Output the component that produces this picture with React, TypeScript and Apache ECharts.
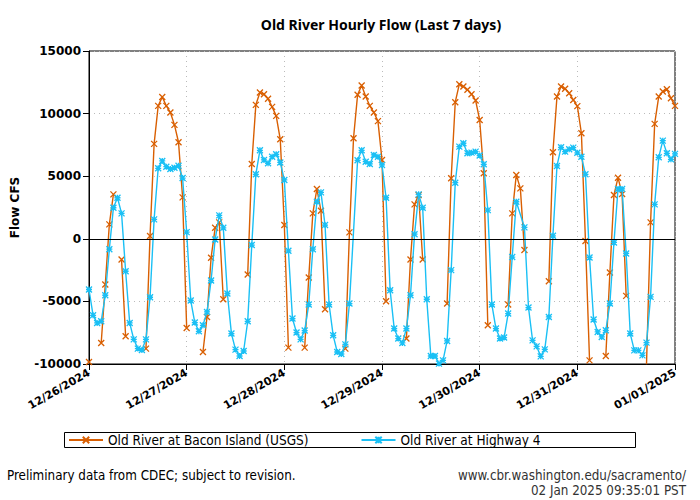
import React, { useEffect, useRef } from "react";
import * as echarts from "echarts";

const dayLabels = ["12/26/2024", "12/27/2024", "12/28/2024", "12/29/2024", "12/30/2024", "12/31/2024", "01/01/2025"];

// Old River at Highway 4 — hourly values, hour index = position (null = missing)
const hwy4Flow: (number | null)[] = [
  -4050, -6110, -6720, -6590, -4510, -830, 2480, 3280, 2030, -2590, -6720, -8030,
  -8770, -8880, -8030, -4670, 1550, 5630, 6220, 5760, 5580, 5680, 5840, 4850,
  530, -4930, -6690, -7390, -6910, -5840, -3330, -50, 1870, 880, -4370, -7570,
  -8850, -9360, -8960, -6590, -500, 5150, 7070, 6300, 6030, 6560, 6750, 6100,
  4700, -960, -6370, -7490, -8030, -7330, -5250, -830, 2960, 3710, 1100, -5250,
  -7710, -9040, -9200, -8430, -5170, null, 6270, 7070, 6160, 5980, 6700, 6560,
  5900, 3280, -4110, -7170, -7970, -8320, -7170, -4510, 370, 3550, 2480, -4830,
  -9360, -9360, -9970, -9710, -8160, -2500, 4480, 7360, 7630, 6830, 6880, 6960,
  6650, 5950, 2290, -5250, -7170, -7970, -7890, -5970, -1460, 2960, null, 910,
  -5490, -8110, -8590, -9390, -8830, -6240, 240, 5820, 7310, 6960, 7150, 7280,
  6870, 6560, 5150, -1490, -6450, -7440, -7840, -7310, -5170, -290, 3980, 3980,
  -1170, -7570, -8910, -8910, -9310, -8290, -4640, 2750, 6510, 7840, 6830, 6350,
  6780,
];

// Old River at Bacon Island (USGS) — hours since 12/26/2024 00:00 and values (other hours missing)
const baconHours = [
  0, 3, 4, 5, 6, 8, 9, 14, 15, 16, 17, 18, 19, 20, 21, 22, 23, 24,
  28, 29, 30, 31, 32, 33, 39, 40, 41, 42, 43, 44, 45, 46, 47, 48,
  49, 53, 54, 55, 56, 57, 58, 63, 64, 65, 66, 67, 68, 69, 70, 71, 72,
  73, 78, 79, 80, 81, 82, 88, 89, 90, 91, 92, 93, 94, 95, 96,
  97, 98, 103, 104, 105, 106, 107, 113, 114, 115, 116, 117, 118, 119, 120,
  121, 122, 123, 127, 128, 129, 130, 131, 132, 137, 138, 139, 140, 141, 142, 143, 144,
];
const baconFlow = [
  -9840, -8320, -3650, 1150, 3550, -1650, -7790, -8770, 220, 7580, 10620, 11320, 10620, 10090, 9100, 7710, 3310, -7120,
  -9040, -6240, -1520, 880, 1310, -4830, -2850, 5980, 10700, 11680, 11550, 11180, 10540, 9820, 7950, 1100,
  -8690, -8690, -3090, 2030, 3980, 2240, -5630, -8770, 510, 8030, 11500, 12250, 11370, 10620, 10090, 9400, 6300,
  -4990, -7970, -1650, 2750, 3500, -1650, -5170, 4830, 10910, 12350, 12170, 11900, 11550, 11050, 9490,
  5230, -6910, -5250, 2030, 5100, 4030, -900, -3390, 6910, 11360, 12170, 11980, 11630, 11090, 10600,
  8430, -180, -9710, -9360, -2690, 3500, 4880, 3580, -4560, -10020, 1310, 9180, 11360, 11760, 11950, 11230, 10620,
];

const seriesNames = ["Old River at Bacon Island (USGS)", "Old River at Highway 4"];
const titleText = "Old River Hourly Flow (Last 7 days)";
const yAxisName = "Flow CFS";
const footLeft = "Preliminary data from CDEC; subject to revision.";
const footRight1 = "www.cbr.washington.edu/sacramento/";
const footRight2 = "02 Jan 2025 09:35:01 PST";

const ORANGE = "#D95F02";
const BLUE = "#1AC0F5";
const CROSS = "path://M0,0L8,8M8,0L0,8";
const STAR = "path://M0,0L8,8M8,0L0,8M4,0L4,8M0,4L8,4";
const SANS = "DejaVu Sans";
const COND = "'DejaVu Sans Condensed', 'DejaVu Sans'";

export default function App() {
  const ref = useRef<HTMLDivElement>(null);
  useEffect(() => {
    if (!ref.current) return;
    const chart = echarts.init(ref.current, undefined, { renderer: "svg" });
    const baconByHour = new Map<number, number>();
    baconHours.forEach((h, i) => baconByHour.set(h, baconFlow[i]));
    const baconData = hwy4Flow.map((_, h) => [h, baconByHour.has(h) ? baconByHour.get(h) : null]);
    const hwyData = hwy4Flow.map((v, i) => [i, v]);
    chart.setOption({
      animation: false,
      backgroundColor: "#fff",
      grid: { left: 89, right: 25, top: 51, bottom: 136, show: true, borderColor: "#000", borderWidth: 1, backgroundColor: "transparent" },
      legend: {
        left: 68,
        top: 433,
        itemWidth: 34,
        itemHeight: 8,
        itemGap: 52,
        padding: 0,
        data: seriesNames,
        textStyle: { fontFamily: COND, fontSize: 13.5, color: "#000" },
      },
      xAxis: {
        type: "value",
        min: 0,
        max: 144,
        interval: 24,
        position: "bottom",
        axisLine: { onZero: false, lineStyle: { color: "#000", width: 1 } },
        axisTick: { show: true, length: 6, lineStyle: { color: "#000" } },
        splitLine: { show: true, lineStyle: { type: [1, 4], color: "#bbb" } },
        axisLabel: {
          rotate: 30,
          margin: 8,
          fontFamily: SANS,
          fontWeight: "bold",
          fontSize: 11,
          color: "#000",
          formatter: (v: number) => dayLabels[Math.round(v / 24)] ?? "",
        },
      },
      yAxis: {
        type: "value",
        min: -10000,
        max: 15000,
        interval: 5000,
        name: yAxisName,
        nameLocation: "middle",
        nameGap: 68,
        nameTextStyle: { fontFamily: SANS, fontWeight: "bold", fontSize: 12, color: "#000" },
        axisLine: { show: true, lineStyle: { color: "#000", width: 1 } },
        axisTick: { show: true, length: 6, lineStyle: { color: "#000" } },
        splitLine: { show: true, lineStyle: { type: [1, 4], color: "#bbb" } },
        axisLabel: { margin: 8, fontFamily: SANS, fontWeight: "bold", fontSize: 12, color: "#000", formatter: (v: number) => String(v) },
      },
      series: [
        {
          name: seriesNames[0],
          type: "line",
          data: baconData,
          connectNulls: false,
          symbol: CROSS,
          symbolSize: 6,
          showAllSymbol: true,
          lineStyle: { color: ORANGE, width: 1.4 },
          itemStyle: { color: ORANGE, borderColor: ORANGE, borderWidth: 1.3 },
          markLine: {
            silent: true,
            symbol: "none",
            label: { show: false },
            lineStyle: { color: "#000", type: "solid", width: 1 },
            data: [{ yAxis: 0 }],
          },
          z: 2,
        },
        {
          name: seriesNames[1],
          type: "line",
          data: hwyData,
          connectNulls: true,
          symbol: STAR,
          symbolSize: 6,
          showAllSymbol: true,
          lineStyle: { color: BLUE, width: 1.4 },
          itemStyle: { color: BLUE, borderColor: BLUE, borderWidth: 1.3 },
          z: 3,
        },
      ],
      graphic: [
        {
          type: "text",
          x: 381,
          y: 24,
          style: { text: titleText, fontFamily: "'Noto Sans'", fontWeight: "bold", fontSize: 14, fill: "#000", textAlign: "center", textVerticalAlign: "middle" },
        },
        {
          type: "rect",
          shape: { x: 64.5, y: 432.5, width: 571, height: 15 },
          style: { fill: "none", stroke: "#000", lineWidth: 1 },
        },
        {
          type: "text",
          x: 7,
          y: 475,
          style: { text: footLeft, fontFamily: COND, fontSize: 13.3, fill: "#000", textAlign: "left", textVerticalAlign: "middle" },
        },
        {
          type: "text",
          x: 686,
          y: 475,
          style: { text: footRight1, fontFamily: COND, fontSize: 13.3, fill: "#333", textAlign: "right", textVerticalAlign: "middle" },
        },
        {
          type: "text",
          x: 686,
          y: 490,
          style: { text: footRight2, fontFamily: COND, fontSize: 13.3, fill: "#333", textAlign: "right", textVerticalAlign: "middle" },
        },
      ],
    });
    return () => chart.dispose();
  }, []);
  return <div ref={ref} style={{ position: "absolute", left: 0, top: 0, width: 700, height: 500 }} />;
}
